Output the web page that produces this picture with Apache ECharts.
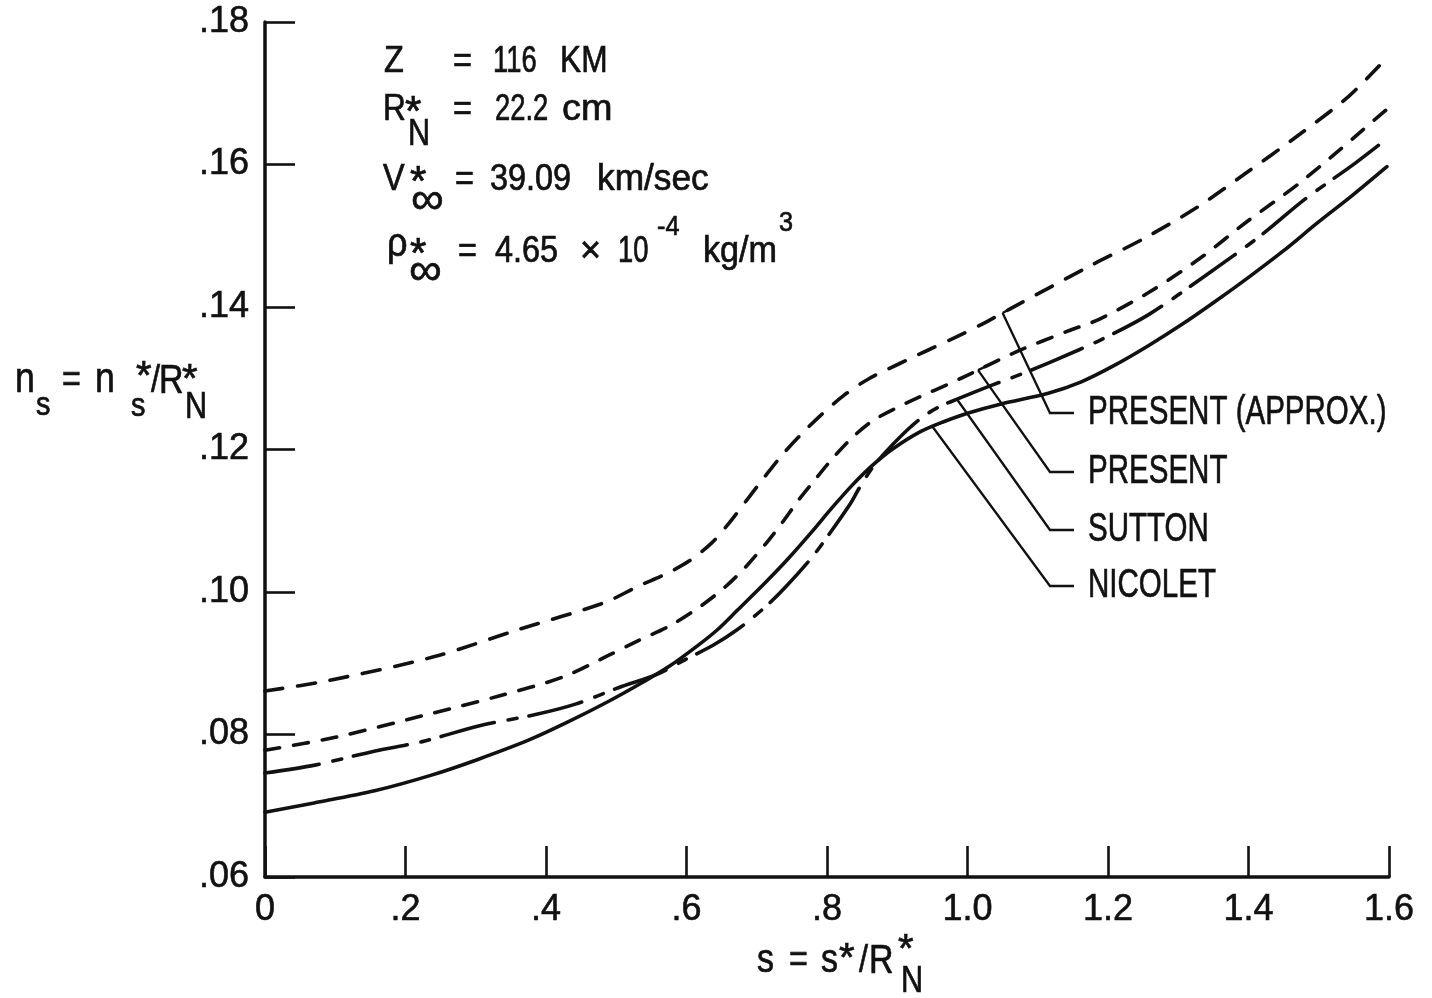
<!DOCTYPE html>
<html>
<head>
<meta charset="utf-8">
<title>Shock standoff distance n_s versus s</title>
<script src="https://cdn.jsdelivr.net/npm/echarts/dist/echarts.min.js"></script>
<style>
  html, body { margin: 0; padding: 0; background: #ffffff; }
  #chart { width: 1432px; height: 998px; }
</style>
</head>
<body>
<div id="chart"></div>
<script>
// Shock standoff n_s = n_s*/R_N* along the body, s = s*/R_N*, four models.
const presentApproxS = [0, 0.087, 0.24, 0.363, 0.483, 0.531, 0.57, 0.603, 0.636, 0.66, 0.685, 0.71, 0.735, 0.762, 0.791, 0.824, 0.859, 0.902, 0.945, 0.982, 1.021, 1.06, 1.175, 1.251, 1.327, 1.395, 1.471, 1.543, 1.6];
const presentApproxN = [0.0861, 0.0875, 0.0909, 0.0948, 0.0985, 0.1008, 0.1025, 0.1043, 0.1069, 0.1096, 0.1128, 0.1160, 0.1191, 0.1220, 0.1248, 0.1276, 0.1299, 0.1320, 0.1340, 0.1357, 0.1376, 0.1397, 0.1458, 0.1496, 0.1540, 0.1587, 0.1641, 0.1696, 0.1753];

const presentS = [0, 0.1, 0.239, 0.333, 0.425, 0.491, 0.53, 0.577, 0.62, 0.655, 0.684, 0.713, 0.736, 0.758, 0.78, 0.804, 0.833, 0.866, 0.915, 0.991, 1.067, 1.145, 1.188, 1.259, 1.332, 1.398, 1.47, 1.528, 1.562, 1.6];
const presentN = [0.0778, 0.0796, 0.0830, 0.0854, 0.0881, 0.0912, 0.0931, 0.0953, 0.0980, 0.1007, 0.1035, 0.1068, 0.1097, 0.1127, 0.1154, 0.1183, 0.1214, 0.1241, 0.1266, 0.1300, 0.1336, 0.1367, 0.1383, 0.1421, 0.1469, 0.1520, 0.1572, 0.1619, 0.1648, 0.1680];

const suttonS = [0, 0.071, 0.157, 0.224, 0.304, 0.385, 0.443, 0.504, 0.557, 0.6, 0.639, 0.672, 0.711, 0.74, 0.778, 0.803, 0.832, 0.846, 0.865, 0.885, 0.915, 0.938, 0.962, 0.986, 1.034, 1.077, 1.124, 1.192, 1.259, 1.34, 1.417, 1.48, 1.552, 1.598];
const suttonN = [0.0746, 0.0757, 0.0777, 0.0790, 0.0812, 0.0828, 0.0843, 0.0866, 0.0884, 0.0906, 0.0926, 0.0947, 0.0978, 0.1006, 0.1048, 0.1081, 0.1122, 0.1146, 0.1175, 0.1198, 0.1228, 0.1247, 0.1261, 0.1271, 0.1290, 0.1306, 0.1325, 0.1355, 0.1390, 0.1445, 0.1500, 0.1551, 0.1602, 0.1637];

const nicoletS = [0, 0.07, 0.156, 0.237, 0.303, 0.375, 0.432, 0.49, 0.539, 0.576, 0.615, 0.644, 0.673, 0.712, 0.745, 0.778, 0.807, 0.836, 0.865, 0.894, 0.933, 0.966, 1.0, 1.048, 1.115, 1.162, 1.209, 1.258, 1.306, 1.353, 1.402, 1.45, 1.498, 1.547, 1.597];
const nicoletN = [0.0691, 0.0704, 0.0721, 0.0743, 0.0765, 0.0792, 0.0818, 0.0847, 0.0874, 0.0896, 0.0924, 0.0947, 0.0975, 0.1013, 0.1047, 0.1084, 0.1118, 0.1150, 0.1178, 0.1201, 0.1225, 0.1239, 0.1251, 0.1264, 0.1279, 0.1295, 0.1318, 0.1346, 0.1376, 0.1408, 0.1443, 0.1479, 0.1518, 0.1556, 0.1597];

const seriesNames = ['PRESENT (APPROX.)', 'PRESENT', 'SUTTON', 'NICOLET'];
// where each label's leader line touches its curve (s value)
const leaderAnchorS = [1.05, 1.015, 0.985, 0.95];

const xTickLabels = ['0', '.2', '.4', '.6', '.8', '1.0', '1.2', '1.4', '1.6'];
const yTickLabels = ['.06', '.08', '.10', '.12', '.14', '.16', '.18'];

const X_MIN = 0, X_MAX = 1.6, X_STEP = 0.2;
const Y_MIN = 0.06, Y_MAX = 0.18, Y_STEP = 0.02;

const FONT = "'Liberation Sans', Arial, sans-serif";
const INK = '#111111';

const pairs = (xs, ys) => xs.map((x, i) => [x, ys[i]]);

function lineSeries(name, xs, ys, dash) {
  return {
    name: name,
    type: 'line',
    data: pairs(xs, ys),
    showSymbol: false,
    smooth: 0.3,
    silent: true,
    lineStyle: { color: INK, width: 3.6, type: dash, cap: 'round', join: 'round' }
  };
}

const curves = [
  [presentApproxS, presentApproxN],
  [presentS, presentN],
  [suttonS, suttonN],
  [nicoletS, nicoletN]
];

const tickLabelStyle = {
  fontSize: 36, color: INK, fontFamily: FONT,
  textBorderColor: INK, textBorderWidth: 0.6
};

const chart = echarts.init(document.getElementById('chart'), null, { renderer: 'canvas' });

chart.setOption({
  animation: false,
  backgroundColor: '#ffffff',
  grid: { left: 265, right: 43, top: 22, bottom: 121, containLabel: false },
  xAxis: {
    type: 'value', min: X_MIN, max: X_MAX, interval: X_STEP,
    axisLine: { show: true, lineStyle: { color: INK, width: 3.5 } },
    axisTick: { show: true, inside: true, length: 31, lineStyle: { color: INK, width: 2.6 } },
    splitLine: { show: false },
    axisLabel: Object.assign({
      margin: 15,
      formatter: v => xTickLabels[Math.round((v - X_MIN) / X_STEP)]
    }, tickLabelStyle)
  },
  yAxis: {
    type: 'value', min: Y_MIN, max: Y_MAX, interval: Y_STEP,
    axisLine: { show: true, lineStyle: { color: INK, width: 3.5 } },
    axisTick: { show: true, inside: true, length: 30, lineStyle: { color: INK, width: 2.6 } },
    splitLine: { show: false },
    axisLabel: Object.assign({
      margin: 16,
      formatter: v => yTickLabels[Math.round((v - Y_MIN) / Y_STEP)]
    }, tickLabelStyle)
  },
  series: [
    lineSeries(seriesNames[0], presentApproxS, presentApproxN, [18, 15]),
    lineSeries(seriesNames[1], presentS, presentN, [15, 14]),
    lineSeries(seriesNames[2], suttonS, suttonN, [55, 14, 9, 12]),
    lineSeries(seriesNames[3], nicoletS, nicoletN, 'solid')
  ]
});

// text piece: y is the vertical middle of the em box, sx squeezes it horizontally
function piece(str, x, y, size, sx) {
  return {
    type: 'text', x: x, y: y, scaleX: sx === undefined ? 0.85 : sx, silent: true, z: 10,
    style: {
      text: str, fontSize: size, fontFamily: FONT, fill: INK,
      stroke: INK, lineWidth: 0.7,
      align: 'left', verticalAlign: 'middle', textAlign: 'left', textVerticalAlign: 'middle'
    }
  };
}

// linear interpolation along a curve's own data
function curveAt(xs, ys, s) {
  for (let i = 1; i < xs.length; i++) {
    if (s <= xs[i]) {
      const t = (s - xs[i - 1]) / (xs[i] - xs[i - 1]);
      return ys[i - 1] + t * (ys[i] - ys[i - 1]);
    }
  }
  return ys[ys.length - 1];
}

const DIG = 0.76;   // squeeze for figures
const graphics = [];

// flight conditions block
graphics.push(
  piece('Z', 384, 62, 36, 0.9),
  piece('=', 453, 62, 36, 0.9),
  piece('116', 493, 62, 36, DIG),
  piece('KM', 560, 62, 36, 0.88),

  piece('R', 383, 110, 36, 0.88),
  piece('*', 405, 113, 42, 1),
  piece('N', 408, 135, 36, 0.85),
  piece('=', 453, 110, 36, 0.9),
  piece('22.2', 495, 110, 36, DIG),
  piece('cm', 562, 110, 36, 1.05),

  piece('V', 383, 180, 36, 0.9),
  piece('*', 410, 183, 42, 1),
  piece('\u221E', 411, 201, 46, 1),
  piece('=', 455, 180, 36, 0.9),
  piece('39.09', 490, 180, 36, 0.9),
  piece('km/sec', 597, 180, 36, 0.98),

  piece('\u03C1', 387, 245, 40, 0.9),
  piece('*', 410, 255, 42, 1),
  piece('\u221E', 409, 272, 46, 1),
  piece('=', 458, 252, 36, 0.9),
  piece('4.65', 495, 252, 36, 0.9),
  piece('\u00D7', 580, 252, 36, 1),
  piece('10', 618, 252, 36, DIG),
  piece('-4', 657, 227, 28, 0.9),
  piece('kg/m', 703, 252, 36, 0.95),
  piece('3', 779, 223, 28, 0.9)
);

// y axis title: n_s = n_s*/R_N*
graphics.push(
  piece('n', 15, 380, 42),
  piece('s', 36, 406, 34),
  piece('=', 62, 382, 38),
  piece('n', 95, 380, 42),
  piece('s', 131, 407, 34),
  piece('*', 136, 378, 40, 1),
  piece('/', 151, 382, 38),
  piece('R', 159, 382, 40),
  piece('*', 182, 381, 40, 1),
  piece('N', 185, 408, 36)
);

// x axis title: s = s*/R_N*
graphics.push(
  piece('s', 757, 961, 40),
  piece('=', 789, 962, 38),
  piece('s', 821, 961, 40),
  piece('*', 839, 960, 40, 1),
  piece('/', 859, 962, 38),
  piece('R', 869, 962, 40),
  piece('*', 898, 951, 40, 1),
  piece('N', 901, 982, 36)
);

// curve labels with leader lines
const labelY = [413, 472, 530, 586];
const labelX = 1088;
seriesNames.forEach((name, i) => {
  const xs = curves[i][0], ys = curves[i][1];
  const s0 = leaderAnchorS[i];
  const p0 = chart.convertToPixel({ gridIndex: 0 }, [s0, curveAt(xs, ys, s0)]);
  const p1 = chart.convertToPixel({ gridIndex: 0 }, [s0 + 0.022, curveAt(xs, ys, s0 + 0.022)]);
  graphics.push({
    type: 'polyline', silent: true, z: 9,
    shape: { points: [p0, [1050, labelY[i]], [1074, labelY[i]]] },
    style: { stroke: INK, lineWidth: 2.3, fill: null }
  });
  graphics.push({
    type: 'line', silent: true, z: 9,
    shape: { x1: p0[0], y1: p0[1], x2: p1[0], y2: p1[1] },
    style: { stroke: INK, lineWidth: 2.3 }
  });
  graphics.push(piece(name, labelX, labelY[i], 41, 0.72));
});

chart.setOption({ graphic: graphics });
</script>
</body>
</html>
